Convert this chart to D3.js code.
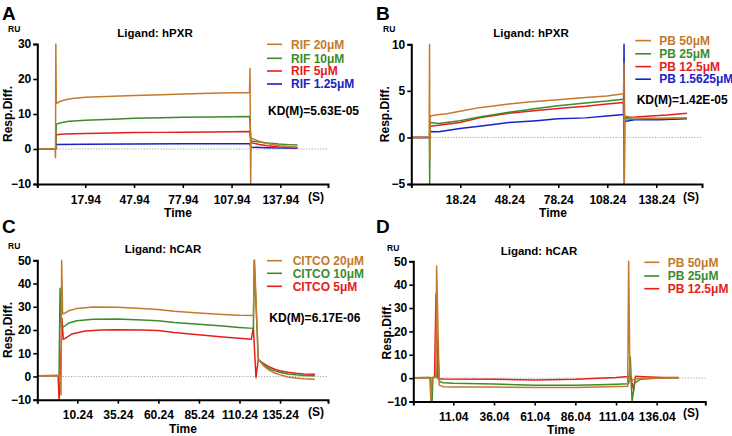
<!DOCTYPE html>
<html><head><meta charset="utf-8">
<script src="https://cdn.jsdelivr.net/npm/d3@7"></script>
<style>
body{margin:0;background:#fff;}
svg text{font-family:"Liberation Sans",Arial,sans-serif;font-weight:bold;}
</style></head>
<body><svg id="c" width="732" height="436"></svg>
<script>
// ---------- DATA ----------
// Panel A: RIF on hPXR  ([time s, response RU])
const rif20 = [[-11.6,0],[-0.9,0],[-0.6,-0.4],[-0.4,-2.5],[-0.2,30],[0.1,13],[2,13.5],[5,14],[10,14.4],[18,14.8],[35,15.1],[48,15.3],[65,15.5],[78,15.7],[95,15.9],[108,16.05],[119,16.1],[119.3,23],[119.7,-10],[120,3.1],[124,2.4],[128,1.8],[133,1.3],[138,0.9],[143,0.7],[148.5,0.5]];
const rif10 = [[-11.6,0],[-0.3,0],[0.1,7.1],[3,7.5],[8,7.9],[18,8.2],[35,8.5],[48,8.8],[65,8.95],[78,9.05],[95,9.15],[108,9.2],[119,9.3],[120,2.3],[125,2],[130,1.7],[137,1.4],[143,1.25],[148.5,1.15]];
const rif5 = [[-11.6,0],[-0.3,0],[0.1,4.1],[5,4.3],[18,4.45],[35,4.6],[48,4.7],[65,4.75],[78,4.8],[95,4.85],[108,4.95],[119,5.0],[120,1.8],[125,1.3],[130,0.9],[137,0.6],[143,0.45],[148.5,0.4]];
const rif125 = [[-11.6,0],[-0.3,0],[0.1,1.3],[18,1.35],[48,1.45],[78,1.5],[108,1.5],[119,1.5],[120,0.5],[130,0.35],[140,0.25],[148.5,0.2]];
const seriesA = ["RIF 20μM","RIF 10μM","RIF 5μM","RIF 1.25μM"];
const ticksA = [17.94,47.94,77.94,107.94,137.94];

// Panel B: PB on hPXR
const pb50B = [[-11.76,0],[-1.2,0.05],[-0.8,0.2],[-0.6,10],[-0.4,-2.4],[-0.2,2.3],[3,2.4],[10,2.55],[18,2.8],[30,3.2],[48,3.6],[60,3.8],[78,4.05],[95,4.3],[108,4.45],[118.2,4.7],[118.5,8],[118.7,-5],[119,2.3],[125,2.1],[135,2.05],[147,2.05],[157,2.1]];
const pb25B = [[-11.76,0],[-0.7,0],[-0.5,-5],[-0.3,1.6],[5,1.5],[18,1.8],[30,2.2],[48,2.7],[65,3.1],[78,3.4],[95,3.7],[108,3.9],[118.2,4.1],[118.7,2.0],[125,1.95],[140,2.0],[157,2.1]];
const pb125B = [[-11.76,0],[-0.5,0],[-0.3,1.2],[5,1.3],[18,1.6],[30,2.1],[48,2.6],[65,2.9],[78,3.1],[95,3.35],[108,3.6],[118.2,3.75],[118.6,-5],[118.9,2.1],[130,2.25],[145,2.4],[157,2.6]];
const pb15B = [[-11.76,0],[-0.5,0],[-0.3,0.65],[5,0.6],[18,0.95],[30,1.2],[48,1.6],[65,1.8],[78,2.0],[95,2.1],[108,2.3],[118.2,2.45],[118.5,10],[118.8,1.7],[125,1.9],[140,1.9],[157,2.0]];
const seriesB = ["PB 50μM","PB 25μM","PB 12.5μM","PB 1.5625μM"];
const ticksB = [18.24,48.24,78.24,108.24,138.24];

// Panel C: CITCO on hCAR
const citco20 = [[-14.42,0.3],[-0.5,0.4],[0.2,-8],[0.6,50],[1.2,27],[2.5,27.2],[5,28.3],[10,29.3],[20,29.9],[35,29.8],[50,29.3],[60,28.8],[70,28.1],[85,27.3],[100,26.7],[110,26.3],[118.8,26.2],[119.5,50],[121.8,7.5],[125,4.6],[128,2.9],[132,1.5],[135,0.8],[140,-0.2],[145,-0.7],[150,-1.0],[156.7,-1.2]];
const citco10 = [[-14.42,0.3],[-1.0,0.4],[-0.4,38],[0.4,21],[2,21.5],[5,23],[10,24],[20,24.6],[35,24.7],[50,24.3],[60,24],[70,23.2],[85,22.5],[100,21.7],[110,21.1],[118.8,20.7],[119.3,50],[121.8,7.5],[125,5.1],[128,3.6],[132,2.4],[135,1.8],[140,1.1],[145,0.7],[150,0.45],[156.7,0.3]];
const citco5 = [[-14.42,0.3],[-1.6,0.4],[-1.0,-10],[-0.2,0],[0.8,25],[1.6,16],[3,16.5],[7,18.3],[15,19.6],[25,20],[35,20.1],[50,20],[60,19.8],[70,18.9],[85,18],[100,17],[110,16.4],[117.5,16],[118.8,21],[120.4,-0.5],[121.8,7.2],[125,5.6],[128,4.3],[132,3.1],[135,2.5],[140,1.8],[145,1.35],[150,1.1],[156.7,1.0]];
const seriesC = ["CITCO 20μM","CITCO 10μM","CITCO 5μM"];
const ticksC = [10.24,35.24,60.24,85.24,110.24,135.24];

// Panel D: PB on hCAR
const pb50D = [[-13.54,0.2],[-3.4,0.3],[-2.7,-10],[-2.0,0.3],[0.3,0.5],[0.8,48],[2.4,-3],[5,-3.7],[11,-3.8],[36,-3.8],[61,-4.0],[86,-4.0],[100,-3.8],[111,-3.6],[118.2,-3.5],[118.8,50],[119.6,-1.5],[122,-0.5],[126,-0.2],[135,0],[149.5,0.2]];
const pb25D = [[-13.54,0.2],[-3.0,0.3],[-2.5,-10],[-2.0,-10],[-1.5,0.3],[0.8,0.5],[1.6,11],[2.6,-1.5],[5,-2.0],[11,-2.2],[36,-2.5],[61,-3.0],[86,-3.0],[100,-2.8],[111,-2.6],[118.8,-2.4],[119.8,9],[120.9,-10],[122.5,-2],[126,-0.5],[135,0],[149.5,0.2]];
const pb125D = [[-13.54,0.2],[-0.5,0.3],[0.4,36],[1.6,-0.3],[5,-0.4],[36,-0.5],[61,-0.8],[86,-0.5],[100,-0.1],[111,0.3],[118.5,0.7],[119.8,1],[121.9,-5],[123,0.8],[128,0.6],[140,0.3],[149.5,0.3]];
const seriesD = ["PB 50μM","PB 25μM","PB 12.5μM"];
const ticksD = [11.04,36.04,61.04,86.04,111.04,136.04];

// ---------- DRAW ----------
const ORANGE="#c47a2c", GREEN="#3d8b2c", RED="#e3201b", BLUE="#1a22c4";
const svg = d3.select("#c");

function panel(cfg){
  const g = svg.append("g");
  const x = d3.scaleLinear().domain(cfg.xdom).range(cfg.xr);
  const y = d3.scaleLinear().domain(cfg.ydom).range(cfg.yr);
  g.append("line").attr("x1",cfg.xr[0]).attr("x2",cfg.xr[1]).attr("y1",y(0)).attr("y2",y(0))
    .attr("stroke","#999").attr("stroke-width",0.9).attr("stroke-dasharray","1.2,1.6");
  const line = d3.line().x(d=>x(d[0])).y(d=>y(Math.max(cfg.ydom[0],Math.min(cfg.ydom[1],d[1]))));
  cfg.lines.forEach(s=>{
    g.append("path").datum(s.data).attr("d",line).attr("fill","none")
      .attr("stroke",s.color).attr("stroke-width",1.5).attr("stroke-linejoin","round");
  });
  const ya = g.append("g").attr("transform",`translate(${cfg.xr[0]},0)`)
    .call(d3.axisLeft(y).tickValues(cfg.yticks).tickSize(4).tickPadding(2).tickFormat(d3.format("d")));
  const xa = g.append("g").attr("transform",`translate(0,${cfg.yr[0]})`)
    .call(d3.axisBottom(x).tickValues(cfg.xticks).tickSize(4).tickPadding(5).tickFormat(d=>d.toFixed(2)));
  [ya,xa].forEach(a=>{
    a.select(".domain").attr("stroke","#000").attr("stroke-width",2);
    a.selectAll(".tick line").attr("stroke","#000").attr("stroke-width",1.6);
    a.selectAll(".tick text").attr("fill","#000").style("font-size","12px")
      .style("font-family","'Liberation Sans',Arial,sans-serif").style("font-weight","bold");
  });
  xa.selectAll(".tick text").attr("dy","0.9em");
  const T=(xx,yy,txt,size,anchor,col)=>g.append("text").attr("x",xx).attr("y",yy).text(txt)
    .style("font-size",size+"px").attr("text-anchor",anchor||"start").attr("fill",col||"#000");
  T(cfg.letterX,cfg.letterY,cfg.letter,19);
  T(cfg.ruX,cfg.ruY,"RU",8.5);
  T(cfg.titleX,cfg.titleY,cfg.title,11.5,"middle");
  T(cfg.sX,cfg.xlabY,"(S)",12,"middle");
  T(cfg.timeX,cfg.timeY,"Time",12,"middle");
  g.append("text").attr("transform",`translate(${cfg.respX},${(cfg.yr[0]+cfg.yr[1])/2}) rotate(-90)`)
    .attr("text-anchor","middle").style("font-size","12px").text("Resp.Diff.");
  cfg.legend.forEach((l,i)=>{
    const yy = cfg.legY[i];
    g.append("line").attr("x1",cfg.legX[0]).attr("x2",cfg.legX[1]).attr("y1",yy).attr("y2",yy)
      .attr("stroke",l.color).attr("stroke-width",1.6);
    T(cfg.legX[2],yy+4.2,l.name,12,"start",l.color);
  });
  if(cfg.kd) T(cfg.kdX,cfg.kdY,cfg.kd,12);
}

panel({letter:"A",letterX:2,letterY:20,ruX:8,ruY:32,title:"Ligand: hPXR",titleX:155,titleY:37,
  xdom:[-11.6,167.3],xr:[37.3,328],ydom:[-10,30],yr:[184,44],yticks:[-10,0,10,20,30],xticks:ticksA,
  sX:316,xlabY:201,timeX:178,timeY:217,respX:12,
  lines:[{data:rif125,color:BLUE},{data:rif5,color:RED},{data:rif10,color:GREEN},{data:rif20,color:ORANGE}],
  legend:[{name:seriesA[0],color:ORANGE},{name:seriesA[1],color:GREEN},{name:seriesA[2],color:RED},{name:seriesA[3],color:BLUE}],
  legX:[267,282,291],legY:[44.3,58.3,71,84],kd:"KD(M)=5.63E-05",kdX:268,kdY:115});

panel({letter:"B",letterX:376,letterY:20,ruX:383,ruY:32,title:"Ligand: hPXR",titleX:531,titleY:37,
  xdom:[-11.76,166.24],xr:[411.3,702],ydom:[-5,10],yr:[184,44.3],yticks:[-5,0,5,10],xticks:ticksB,
  sX:691,xlabY:201,timeX:553,timeY:217,respX:389,
  lines:[{data:pb15B,color:BLUE},{data:pb125B,color:RED},{data:pb25B,color:GREEN},{data:pb50B,color:ORANGE}],
  legend:[{name:seriesB[0],color:ORANGE},{name:seriesB[1],color:GREEN},{name:seriesB[2],color:RED},{name:seriesB[3],color:BLUE}],
  legX:[635.3,651,659.3],legY:[40.6,53.8,66.6,79.2],kd:"KD(M)=1.42E-05",kdX:636.7,kdY:103.5});

panel({letter:"C",letterX:2,letterY:233,ruX:8,ruY:248.7,title:"Ligand: hCAR",titleX:163,titleY:253,
  xdom:[-14.42,164.8],xr:[37.3,328],ydom:[-10,50],yr:[399.7,260.3],yticks:[-10,0,10,20,30,40,50],xticks:ticksC,
  sX:316,xlabY:416,timeX:183,timeY:433,respX:12,
  lines:[{data:citco5,color:RED},{data:citco10,color:GREEN},{data:citco20,color:ORANGE}],
  legend:[{name:seriesC[0],color:ORANGE},{name:seriesC[1],color:GREEN},{name:seriesC[2],color:RED}],
  legX:[267,282,292.7],legY:[260.7,273.3,286.3],kd:"KD(M)=6.17E-06",kdX:269.3,kdY:321.5});

panel({letter:"D",letterX:376,letterY:233,ruX:387,ruY:250.7,title:"Ligand: hCAR",titleX:539,titleY:254.7,
  xdom:[-13.54,165.9],xr:[413.3,705.3],ydom:[-10,50],yr:[401.5,261.3],yticks:[-10,0,10,20,30,40,50],xticks:ticksD,
  sX:691,xlabY:417,timeX:561,timeY:434,respX:391,
  lines:[{data:pb125D,color:RED},{data:pb25D,color:GREEN},{data:pb50D,color:ORANGE}],
  legend:[{name:seriesD[0],color:ORANGE},{name:seriesD[1],color:GREEN},{name:seriesD[2],color:RED}],
  legX:[644.3,659.3,667.7],legY:[262.3,276,288.7]});
</script></body></html>
